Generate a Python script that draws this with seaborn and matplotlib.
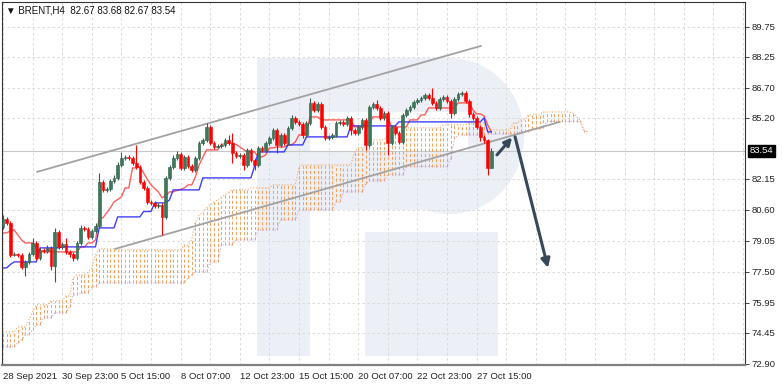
import numpy as np
import pandas as pd
import matplotlib
matplotlib.use("Agg")
import matplotlib.pyplot as plt
import matplotlib.transforms as mtransforms
from matplotlib.patches import Rectangle, Ellipse, FancyArrowPatch
import seaborn as sns

# ---------------- data ----------------
title_text = "\u25BC BRENT,H4  82.67 83.68 82.67 83.54"
last_price = 83.54
first_open = 79.73

closes = [80.13, 79.93, 78.33, 78.38, 78.33, 77.73, 77.98, 78.38, 78.93, 78.18,
          78.58, 78.53, 78.68, 77.78, 79.48, 78.73, 78.88, 78.48, 78.38, 78.18,
          78.93, 79.68, 79.63, 79.23, 79.53, 79.78, 81.98, 81.58, 81.63, 82.03,
          82.18, 82.83, 83.18, 83.23, 83.18, 82.93, 82.73, 81.98, 81.68, 80.98,
          80.93, 80.78, 80.83, 80.23, 82.18, 82.73, 83.18, 83.38, 82.68, 83.23,
          82.78, 82.58, 83.18, 83.93, 84.08, 84.73, 83.93, 83.73, 83.78, 83.83,
          84.08, 83.93, 83.43, 83.28, 83.33, 82.83, 83.58, 83.08, 82.83, 83.68,
          83.58, 83.93, 84.18, 84.58, 83.83, 84.33, 83.93, 84.68, 85.18, 84.98,
          84.88, 84.33, 84.93, 85.93, 85.58, 85.88, 84.73, 84.18, 84.23, 84.33,
          84.93, 84.98, 84.88, 85.18, 84.58, 84.43, 84.73, 85.08, 83.83, 85.73,
          85.88, 85.68, 85.18, 85.43, 83.93, 84.73, 84.43, 83.98, 85.33, 85.58,
          85.73, 85.98, 86.08, 86.18, 86.33, 86.18, 85.93, 85.68, 86.13, 86.23,
          86.03, 85.43, 86.13, 86.38, 86.43, 86.03, 85.38, 85.18, 84.73, 84.23,
          84.08, 82.67, 83.54]

highs = [80.35, 80.23, 80.03, 78.48, 78.45, 78.43, 78.08, 78.48, 79.18, 79.03,
         78.68, 78.68, 78.83, 78.78, 79.68, 79.58, 78.98, 79.18, 78.58, 78.48,
         79.03, 79.83, 79.78, 79.73, 79.63, 79.93, 82.43, 82.08, 81.73, 82.13,
         82.33, 82.98, 83.48, 83.33, 83.33, 83.28, 83.83, 82.83, 82.08, 81.78,
         81.08, 81.03, 80.93, 80.93, 82.28, 82.83, 83.33, 83.53, 83.48, 83.33,
         83.33, 82.88, 83.28, 84.03, 84.18, 84.93, 84.83, 84.03, 83.88, 83.93,
         84.18, 84.33, 84.43, 83.53, 83.43, 83.43, 83.68, 83.68, 83.18, 83.78,
         83.78, 84.03, 84.28, 84.68, 84.68, 84.43, 84.43, 84.78, 85.33, 85.28,
         85.08, 84.98, 85.03, 86.18, 86.03, 85.98, 85.98, 84.83, 84.33, 84.43,
         85.03, 85.08, 85.08, 85.28, 85.28, 84.68, 84.83, 85.18, 85.18, 85.83,
         85.98, 86.08, 85.78, 85.53, 85.53, 84.83, 84.83, 84.53, 85.43, 85.68,
         85.83, 86.08, 86.18, 86.28, 86.43, 86.43, 86.68, 86.03, 86.23, 86.33,
         86.33, 86.13, 86.23, 86.48, 86.53, 86.53, 86.13, 85.48, 85.28, 84.83,
         84.33, 84.13, 83.68]

lows = [79.63, 79.83, 78.23, 78.28, 78.25, 77.63, 77.28, 77.88, 78.28, 78.08,
        78.08, 78.43, 78.43, 77.58, 76.98, 78.63, 78.63, 78.38, 78.23, 78.03,
        78.08, 78.83, 79.53, 79.13, 79.13, 79.43, 79.68, 81.48, 81.48, 81.53,
        81.93, 82.08, 82.73, 83.08, 83.08, 82.83, 82.63, 81.88, 81.58, 80.88,
        80.83, 80.68, 80.68, 79.33, 80.13, 82.08, 82.63, 83.08, 82.58, 82.58,
        82.68, 82.48, 82.48, 83.08, 83.83, 83.98, 83.83, 83.63, 83.68, 83.68,
        83.73, 83.83, 82.93, 83.18, 83.18, 82.58, 82.73, 82.98, 82.58, 82.73,
        83.48, 83.48, 83.83, 84.08, 83.43, 83.73, 83.83, 83.83, 84.58, 84.88,
        84.78, 84.18, 84.23, 84.83, 85.48, 85.48, 84.63, 84.08, 84.08, 84.13,
        84.23, 84.83, 84.78, 84.78, 84.33, 84.33, 84.33, 84.63, 83.58, 83.73,
        85.63, 85.58, 85.08, 85.08, 83.33, 83.83, 84.33, 83.88, 83.88, 85.23,
        85.48, 85.63, 85.88, 85.98, 86.08, 86.08, 85.83, 85.58, 85.58, 86.03,
        85.93, 85.18, 85.33, 86.03, 86.28, 85.93, 85.23, 85.08, 84.63, 84.03,
        83.93, 82.33, 82.67]

tenkan = ([79.43, 79.43, 79.53, 79.58, 79.33, 79.08, 78.93, 78.93, 78.93, 78.70]
          + [78.48] * 11
          + [78.73, 78.73, 78.93, 78.93, 79.08, 80.18, 80.18, 80.43, 80.68,
             80.98, 81.10, 81.23, 81.68, 81.68, 82.68, 82.68, 82.73, 82.43, 82.10,
             81.83, 81.65, 81.48, 81.18, 81.30, 81.48, 81.48, 81.55, 81.60, 81.68,
             81.83, 81.83, 82.23, 82.83, 83.20, 83.58, 83.58, 83.58, 83.58, 83.83,
             83.90, 83.93, 83.93, 83.85, 83.73, 83.60, 83.48, 83.48, 83.48, 83.23,
             83.23, 83.33, 83.68, 83.68, 83.73, 83.73, 83.73, 83.83, 83.83, 83.98,
             84.33, 84.33, 84.43, 85.23, 85.23, 85.23]
          + [85.08] * 9
          + [84.73, 84.73, 84.73, 84.93, 84.93]
          + [85.23] * 5 + [84.73] * 5 + [85.08] * 3 + [85.33] * 2
          + [85.68] * 8 + [85.93] * 4
          + [85.58, 85.38, 85.38, 85.28, 84.83, 84.48])

kijun = ([77.68] * 2 + [77.85] + [77.98] * 7 + [78.68] * 6 + [78.73] * 10
         + [79.68] * 5 + [80.23] * 7 + [80.50] * 3 + [80.93] * 4 + [81.08]
         + [81.58] * 8 + [82.18] * 14 + [82.78] + [83.48] * 8 + [83.83] * 5
         + [84.23] * 12 + [84.78] * 13 + [84.98] * 23 + [85.18] + [84.48] * 2)

senkou_a = ([74.48] * 4 + [74.73] * 3 + [75.08, 75.48] + [75.83] * 4 + [76.03] * 4
            + [76.28] * 2 + [77.18] + [77.33] * 3 + [77.48, 77.68, 78.33]
            + [78.63] * 5 + [78.58] * 18 + [78.83] * 2 + [79.08]
            + [79.98, 80.33, 80.43, 80.68, 80.83, 80.98, 81.08, 81.23, 81.33, 81.48]
            + [81.58] * 5 + [81.68] * 6 + [81.83] * 7 + [82.73] + [82.83] * 14
            + [83.48] + [83.68] * 3 + [84.08] * 5 + [84.33] * 4 + [84.68] * 11
            + [84.83] * 7 + [84.93] * 5 + [84.58] * 7 + [84.93] * 2 + [85.08] * 2
            + [85.33] * 4 + [85.48] * 8 + [85.43, 85.23, 85.08, 84.58, 84.48])

senkou_b = ([73.73] * 4 + [73.93, 74.08] + [74.33] * 2 + [74.58] + [74.83] * 2
            + [75.18] * 3 + [75.43] * 4 + [75.73] + [76.33] * 2 + [76.43] * 3
            + [76.73] * 2 + [76.93] * 24 + [77.18, 77.33] + [77.48] * 4
            + [77.98] * 3 + [78.83] * 4 + [79.08] * 6 + [79.58] * 6 + [80.08] * 5
            + [80.58] * 10 + [80.98] * 2 + [81.48] * 6 + [81.88] + [82.03] * 5
            + [82.33] * 5 + [82.75] * 12 + [83.15, 84.13] + [84.33] * 8
            + [84.38] * 9 + [84.50] * 3 + [84.63] * 3 + [84.70] + [85.00] * 10
            + [84.50] * 2)

upper_channel_bars = [9.2, 129.2]
upper_channel_prices = [82.48, 88.78]
lower_channel_bars = [30.3, 150.5]
lower_channel_prices = [78.63, 84.98]

arrow_up_bars = [133.5, 137.6]
arrow_up_prices = [83.33, 84.20]
arrow_down_bars = [138.4, 147.3]
arrow_down_prices = [84.23, 77.68]

y_tick_values = [89.75, 88.25, 86.70, 85.20, 82.15, 80.60, 79.05, 77.50, 75.95, 74.45, 72.90]
y_tick_labels = ["89.75", "88.25", "86.70", "85.20", "82.15", "80.60", "79.05",
                 "77.50", "75.95", "74.45", "72.90"]
x_tick_bars = [0, 16, 32, 48, 64, 80, 96, 112, 128]
x_tick_labels = ["28 Sep 2021", "30 Sep 23:00", "5 Oct 15:00", "8 Oct 07:00",
                 "12 Oct 23:00", "15 Oct 15:00", "20 Oct 07:00", "22 Oct 23:00",
                 "27 Oct 15:00"]

# ---------------- style ----------------
sns.set_style("white")
plt.rcParams['font.family'] = ['Liberation Sans', 'DejaVu Sans']

W, H = 782, 385
fig = plt.figure(figsize=(W / 100, H / 100), dpi=100)
L_px, R_px, T_px, B_px = 2, 745, 2, 365
ax = fig.add_axes([L_px / W, 1 - B_px / H, (R_px - L_px) / W, (B_px - T_px) / H])

def px_to_bar(p):
    return (p - 3) / 3.7

def px_to_price(p):
    return 91.075 - p / 20.0

ax.set_xlim(px_to_bar(L_px), px_to_bar(R_px))
ax.set_ylim(px_to_price(B_px), px_to_price(T_px))

# ---- watermark logo (background) ----
wm = '#ECEFF5'
def fx(x):
    return x / W
def fy(y):
    return 1 - y / H
def wrect(x0, y0, x1, y1, color):
    ax.add_patch(Rectangle((fx(x0), fy(y1)), (x1 - x0) / W, (y1 - y0) / H,
                           transform=fig.transFigure, facecolor=color,
                           edgecolor='none', zorder=0.1))
wrect(257, 58, 310, 356, wm)
wrect(310, 58, 450, 210, wm)
ax.add_patch(Ellipse((fx(450), fy(136)), 2 * 74 / W, 2 * 78 / H,
                     transform=fig.transFigure, facecolor=wm, edgecolor='none',
                     zorder=0.1))
wrect(310, 112, 468, 151, 'white')
wrect(365, 232, 498, 356, wm)

# ---- grid ----
grid_col = '#D6D6D6'
for yv in y_tick_values:
    ax.axhline(yv, color=grid_col, lw=0.6, dashes=(3, 3), zorder=0.5)
for xv in range(0, 201, 8):
    ax.axvline(xv, color=grid_col, lw=0.6, dashes=(3, 3), zorder=0.5)
ax.axhline(last_price, color='#C8C8C8', lw=0.8, zorder=0.6)

# ---- Ichimoku cloud ----
cloud_x = np.arange(len(senkou_a))
ax.vlines(cloud_x, senkou_b, senkou_a, colors='#F4A460', linestyles=(0, (3, 2)),
          lw=0.75, zorder=1.5)
sns.lineplot(x=cloud_x, y=senkou_a, ax=ax, color='#F4A460', lw=0.8,
             linestyle=':', zorder=1.6)
sns.lineplot(x=cloud_x, y=senkou_b, ax=ax, color='#CDA8D4', lw=0.8,
             linestyle=':', zorder=1.6)

# ---- channel lines ----
sns.lineplot(x=upper_channel_bars, y=upper_channel_prices, ax=ax, color='#A2A2A2',
             lw=1.3, zorder=2)
sns.lineplot(x=lower_channel_bars, y=lower_channel_prices, ax=ax, color='#A2A2A2',
             lw=1.3, zorder=2)

# ---- Tenkan / Kijun ----
bars = np.arange(len(closes))
sns.lineplot(x=bars, y=tenkan, ax=ax, color='#FF1A1A', lw=1.0, alpha=0.7, zorder=2.5)
sns.lineplot(x=bars, y=kijun, ax=ax, color='#1E1EFF', lw=1.0, alpha=0.85, zorder=2.5)

# ---- candles ----
df = pd.DataFrame({'bar': bars, 'close': closes, 'high': highs, 'low': lows})
df['open'] = [first_open] + closes[:-1]
up = df[df['close'] >= df['open']]
dn = df[df['close'] < df['open']]
green = '#3A7A5A'
ax.vlines(up['bar'], up['low'], up['high'], color='#3E5A4C', lw=0.8, zorder=3)
ax.vlines(dn['bar'], dn['low'], dn['high'], color='#FF0000', lw=0.8, zorder=3)
ax.bar(up['bar'], up['close'] - up['open'], bottom=up['open'], width=0.72,
       color=green, edgecolor='#2C5E45', lw=0.4, zorder=4)
ax.bar(dn['bar'], dn['close'] - dn['open'], bottom=dn['open'], width=0.72,
       color='#FF0000', edgecolor='#FF0000', lw=0.4, zorder=4)

# ---- arrows ----
arrow_col = '#37485A'
ax.add_patch(FancyArrowPatch((arrow_up_bars[0], arrow_up_prices[0]),
                             (arrow_up_bars[1], arrow_up_prices[1]),
                             arrowstyle='-|>', mutation_scale=11, lw=2.2,
                             color=arrow_col, zorder=6, shrinkA=0, shrinkB=0))
ax.add_patch(FancyArrowPatch((arrow_down_bars[0], arrow_down_prices[0]),
                             (arrow_down_bars[1], arrow_down_prices[1]),
                             arrowstyle='-|>', mutation_scale=13, lw=2.2,
                             color=arrow_col, zorder=6, shrinkA=0, shrinkB=0))

# ---- axes, ticks ----
ax.set_xlabel('')
ax.set_ylabel('')
ax.yaxis.tick_right()
ax.set_yticks(y_tick_values)
ax.set_yticklabels(y_tick_labels)
ax.set_xticks(x_tick_bars)
ax.set_xticklabels(x_tick_labels, ha='left')
ax.tick_params(axis='y', length=3, width=0.6, pad=2, labelsize=6.8, colors='#222222')
ax.tick_params(axis='x', length=3, width=0.6, pad=2, labelsize=6.8, colors='#222222')
for s in ['left', 'top', 'right']:
    ax.spines[s].set_color('#333333')
    ax.spines[s].set_linewidth(0.8)
ax.spines['bottom'].set_color('#808080')
ax.spines['bottom'].set_linewidth(1.6)

blend = mtransforms.blended_transform_factory(ax.transAxes, ax.transData)
ax.text(1.0 + 4.5 / (R_px - L_px), last_price, "83.54", transform=blend, ha='left',
        va='center', color='white', fontsize=6.8, zorder=10, clip_on=False,
        bbox=dict(boxstyle='square,pad=0.18', fc='black', ec='black'))

fig.text(6 / W, 1 - 10.5 / H, title_text, fontsize=7, ha='left', va='center',
         color='#111111')

fig.savefig("out.png", dpi=100)
